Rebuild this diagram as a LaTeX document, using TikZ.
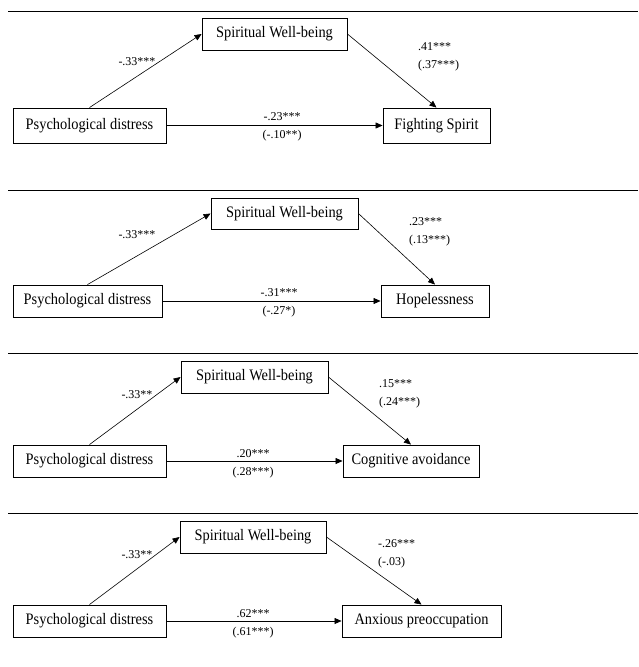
\documentclass[tikz,border=0pt]{standalone}
\usepackage{fontspec}
\setmainfont{Liberation Serif}
\newfontfamily\boxfont[FakeStretch=0.9]{Liberation Serif}
\usepackage{tikz}
\usetikzlibrary{arrows.meta}

\begin{document}
\begin{tikzpicture}[x=1pt,y=-1pt,
  box/.style={draw,line width=0.9pt,inner sep=0pt,font=\boxfont\fontsize{16}{18}\selectfont},
  link/.style={-{Triangle[length=7pt,width=6pt]},line width=0.6pt},
  coef/.style={inner sep=0pt,align=center,font=\fontsize{12}{18}\selectfont},
  coefr/.style={coef,anchor=west,align=left}]
\useasboundingbox (0,0) rectangle (638,667);
% panel rules
\foreach \yy in {11,190,353,513}
  \draw[line width=0.8pt] (8,\yy) -- (638,\yy);

% Fighting Spirit
\node[box,minimum width=145pt,minimum height=32pt] (swb1) at (274.5,34) {Spiritual Well-being};
\node[box,minimum width=153pt,minimum height=35pt] (pd1) at (89.5,125.5) {Psychological distress};
\node[box,minimum width=107pt,minimum height=35pt] (fs1) at (436.5,125.5) {Fighting Spirit};
\draw[link] (pd1.north) -- (swb1.west);
\draw[link] (swb1.east) -- (fs1.north);
\draw[link] (pd1.east) -- (fs1.west);
\node[coef] (a1) at (137,62) {-.33***};
\node[coefr] (b1) at (418,57) {.41***\\(.37***)};
\node[coef] (c1) at (282,127) {-.23***\\(-.10**)};

% Hopelessness
\node[box,minimum width=147pt,minimum height=31pt] (swb2) at (284.5,213.5) {Spiritual Well-being};
\node[box,minimum width=149pt,minimum height=32pt] (pd2) at (87.5,301) {Psychological distress};
\node[box,minimum width=108pt,minimum height=32pt] (hp2) at (435,301) {Hopelessness};
\draw[link] (pd2.north) -- (swb2.west);
\draw[link] (swb2.east) -- (hp2.north);
\draw[link] (pd2.east) -- (hp2.west);
\node[coef] (a2) at (137,235) {-.33***};
\node[coefr] (b2) at (409,231.5) {.23***\\(.13***)};
\node[coef] (c2) at (279,303) {-.31***\\(-.27*)};

% Cognitive avoidance
\node[box,minimum width=147pt,minimum height=32pt] (swb3) at (254.5,377) {Spiritual Well-being};
\node[box,minimum width=153pt,minimum height=32pt] (pd3) at (89.5,461) {Psychological distress};
\node[box,minimum width=136pt,minimum height=32pt] (ca3) at (411,461) {Cognitive avoidance};
\draw[link] (pd3.north) -- (swb3.west);
\draw[link] (swb3.east) -- (ca3.north);
\draw[link] (pd3.east) -- (ca3.west);
\node[coef] (a3) at (137,395) {-.33**};
\node[coefr] (b3) at (379,394) {.15***\\(.24***)};
\node[coef] (c3) at (253,464) {.20***\\(.28***)};

% Anxious preoccupation
\node[box,minimum width=146pt,minimum height=32pt] (swb4) at (253,537) {Spiritual Well-being};
\node[box,minimum width=153pt,minimum height=32pt] (pd4) at (89.5,621) {Psychological distress};
\node[box,minimum width=159pt,minimum height=32pt] (ap4) at (421.5,621) {Anxious preoccupation};
\draw[link] (pd4.north) -- (swb4.west);
\draw[link] (swb4.east) -- (ap4.north);
\draw[link] (pd4.east) -- (ap4.west);
\node[coef] (a4) at (137,555) {-.33**};
\node[coefr] (b4) at (378,554) {-.26***\\(-.03)};
\node[coef] (c4) at (253,624) {.62***\\(.61***)};
\end{tikzpicture}
\end{document}
